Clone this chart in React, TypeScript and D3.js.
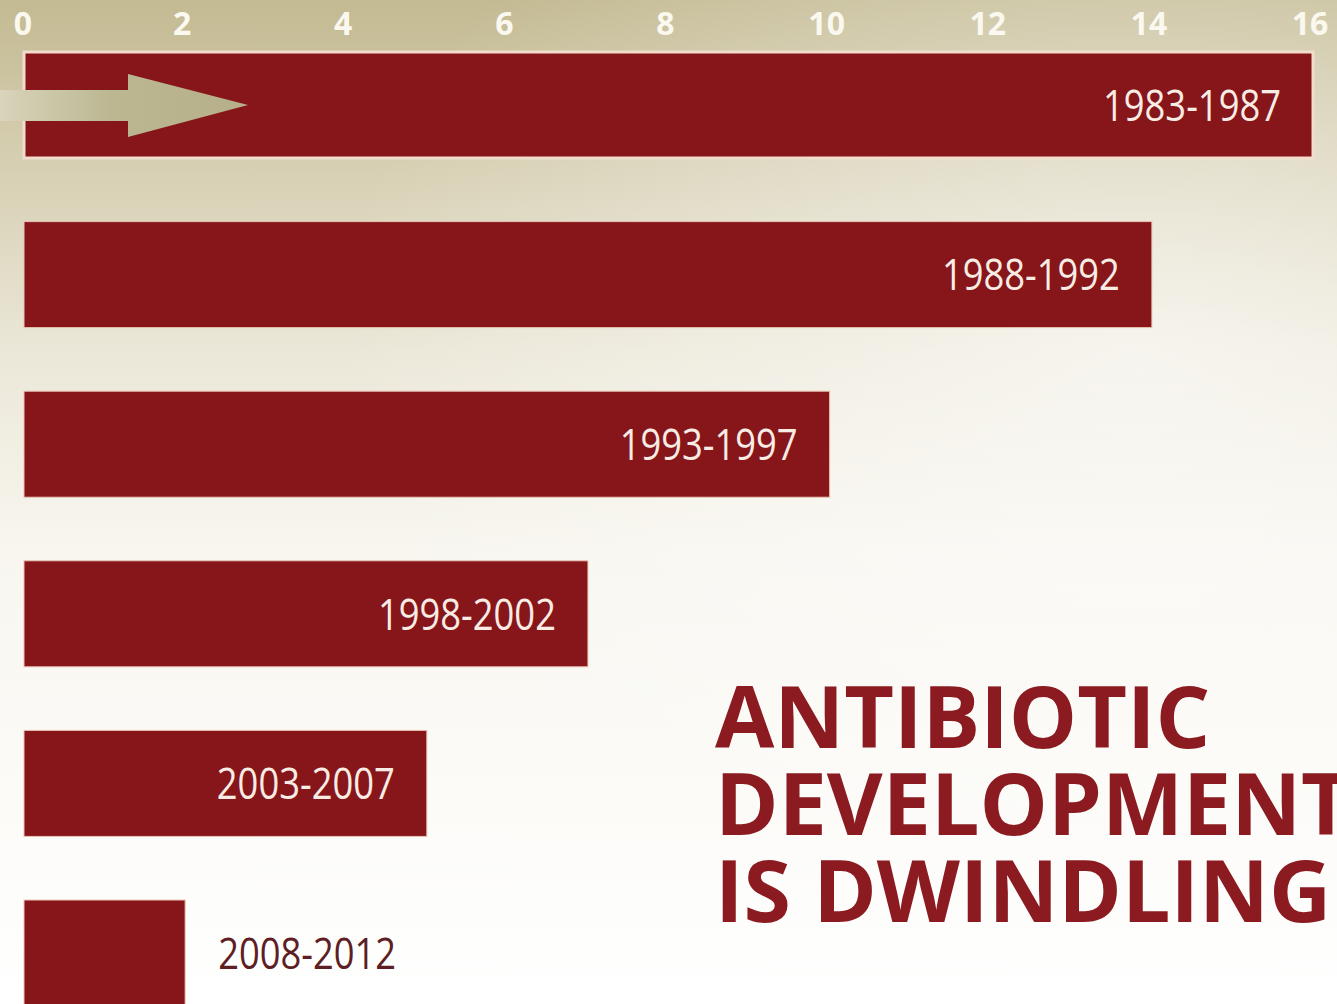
import React, { useEffect, useRef } from 'react';
import * as d3 from 'd3';

// New systemic antibacterial agents approved, per five-year period
const periods = ["1983-1987", "1988-1992", "1993-1997", "1998-2002", "2003-2007", "2008-2012"];
const approvals = [16, 14, 10, 7, 5, 2];
const axisTicks = [0, 2, 4, 6, 8, 10, 12, 14, 16];
const titleLines = ["ANTIBIOTIC", "DEVELOPMENT", "IS DWINDLING"];

const W = 1337;
const H = 1004;
const BAR = "#86161a";
const TITLE = "#8b1b20";

const App = () => {
  const svgRef = useRef<SVGSVGElement>(null);

  useEffect(() => {
    document.body.style.margin = "0";
    const svg = d3.select(svgRef.current);
    svg.selectAll("*").remove();

    const defs = svg.append("defs");
    const bg = defs.append("linearGradient")
      .attr("id", "bg").attr("x1", 0).attr("y1", 0).attr("x2", 0).attr("y2", 1);
    [["0", "#c3ba92"], ["0.16", "#d6cfb2"], ["0.35", "#ebe7d8"], ["0.55", "#f8f6ef"], ["1", "#ffffff"]]
      .forEach(([o, c]) => bg.append("stop").attr("offset", o).attr("stop-color", c));

    const shade = defs.append("radialGradient")
      .attr("id", "glow").attr("cx", 0.85).attr("cy", 0.35).attr("r", 0.6);
    shade.append("stop").attr("offset", "0").attr("stop-color", "#ffffff").attr("stop-opacity", 0.55);
    shade.append("stop").attr("offset", "1").attr("stop-color", "#ffffff").attr("stop-opacity", 0);

    const shaft = defs.append("linearGradient").attr("id", "shaft").attr("x1", 0).attr("x2", 1);
    shaft.append("stop").attr("offset", "0").attr("stop-color", "#d9d4bb");
    shaft.append("stop").attr("offset", "0.45").attr("stop-color", "#bcb791");
    shaft.append("stop").attr("offset", "1").attr("stop-color", "#b6b08a");

    svg.append("rect").attr("width", W).attr("height", H).attr("fill", "url(#bg)");
    svg.append("rect").attr("width", W).attr("height", H).attr("fill", "url(#glow)");

    const x = d3.scaleLinear().domain([0, 16]).range([24, 1313]);
    const y = d3.scaleBand<string>().domain(periods).range([52, 1006]).paddingInner(0.375).paddingOuter(0);

    // axis numbers along the top
    svg.append("g")
      .selectAll("text")
      .data(axisTicks)
      .join("text")
      .attr("x", d => x(d) - (d === 0 ? 1 : 3))
      .attr("y", 35)
      .attr("text-anchor", "middle")
      .attr("font-family", "'Open Sans', sans-serif")
      .attr("font-weight", 700)
      .attr("font-size", 32)
      .attr("fill", "#fbf8ef")
      .text(d => d);

    const rows = periods.map((p, i) => ({ period: p, value: approvals[i] }));

    svg.append("g")
      .selectAll("rect")
      .data(rows)
      .join("rect")
      .attr("x", x(0))
      .attr("y", d => y(d.period)!)
      .attr("width", d => x(d.value) - x(0))
      .attr("height", y.bandwidth())
      .attr("fill", BAR)
      .attr("stroke", (d, i) => i === 0 ? "#f2dccb" : "#e9c3b4")
      .attr("stroke-width", (d, i) => i === 0 ? 3 : 1);

    // arrow inside the first bar
    const b0 = y(periods[0])!;
    const mid = b0 + y.bandwidth() / 2;
    const headX = x(0) + 104;
    const tipX = x(0) + 224;
    svg.append("path")
      .attr("d", `M0,${mid - 15} L${headX},${mid - 15} L${headX},${mid - 31} L${tipX},${mid} L${headX},${mid + 32} L${headX},${mid + 16} L0,${mid + 16} Z`)
      .attr("fill", "url(#shaft)");

    // condensed period labels
    const fs = 44;
    svg.append("g")
      .selectAll("text")
      .data(rows)
      .join("text")
      .each(function (d) {
        const inside = x(d.value) - x(0) > 300;
        d3.select(this)
          .attr("x", inside ? x(d.value) - 32 : x(d.value) + 33)
          .attr("y", y(d.period)! + y.bandwidth() / 2 + fs * 0.36)
          .attr("text-anchor", inside ? "end" : "start")
          .attr("fill", inside ? "#f8ece4" : "#5e1e24");
      })
      .attr("font-family", "'Open Sans', sans-serif")
      .attr("font-size", fs)
      .attr("textLength", 178)
      .attr("lengthAdjust", "spacingAndGlyphs")
      .text(d => d.period);

    const title = svg.append("text")
      .attr("font-family", "'Open Sans', sans-serif")
      .attr("font-weight", 700)
      .attr("font-size", 86)
      .attr("fill", TITLE);
    title.selectAll("tspan")
      .data(titleLines)
      .join("tspan")
      .attr("x", 715)
      .attr("y", (d, i) => 748 + i * 87)
      .text(d => d);
  }, []);

  return <svg ref={svgRef} width={W} height={H} style={{ display: "block" }} />;
};

export default App;
